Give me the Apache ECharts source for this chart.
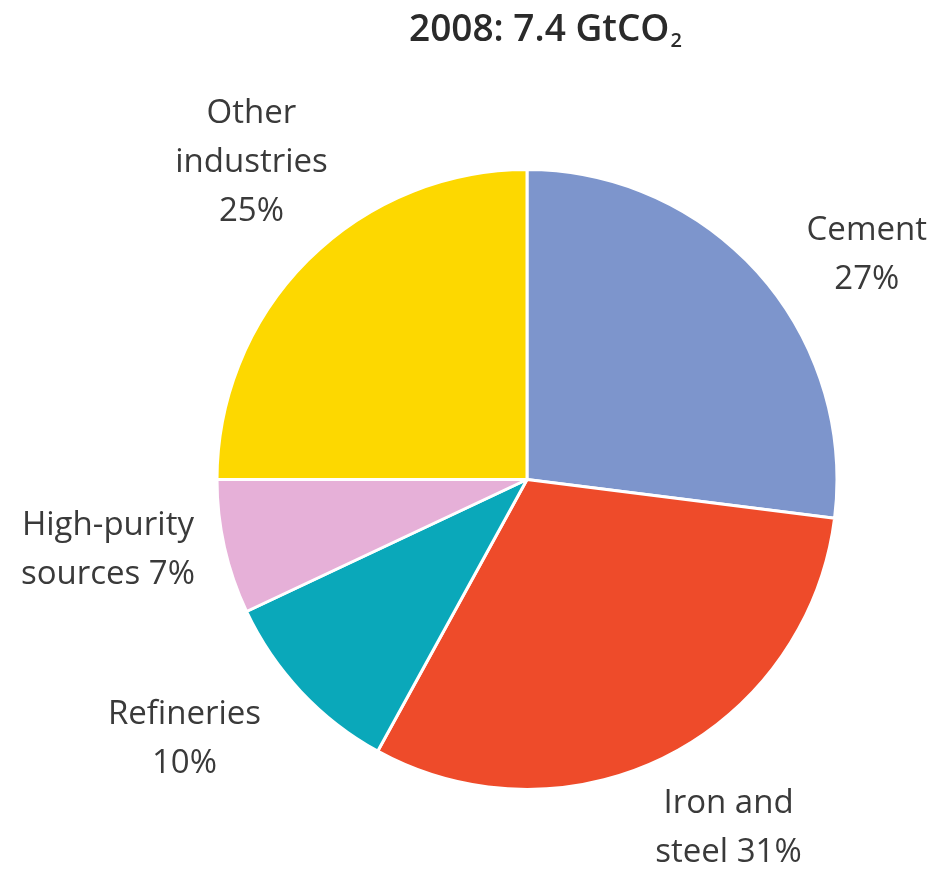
<!DOCTYPE html>
<html>
<head>
<meta charset="utf-8">
<title>2008: 7.4 GtCO2</title>
<script src="https://cdn.jsdelivr.net/npm/echarts@6/dist/echarts.min.js"></script>
<style>
  html, body { margin: 0; padding: 0; background: #ffffff; }
  #chart { width: 932px; height: 873px; }
</style>
</head>
<body>
<div id="chart"></div>
<script>
// Industrial CO2 emissions by source, 2008 (share of 7.4 GtCO2)
const categories = ['Cement', 'Iron and steel', 'Refineries', 'High-purity sources', 'Other industries'];
const shares = [27, 31, 10, 7, 25];
// How each label is split into lines
const labelLines = [
  ['Cement', '{v}%'],
  ['Iron and', 'steel {v}%'],
  ['Refineries', '{v}%'],
  ['High-purity', 'sources {v}%'],
  ['Other', 'industries', '{v}%']
];
const sliceColors = ['#7d95cc', '#ee4b2a', '#0aa8ba', '#e6b0d8', '#fdd800'];

// Pie geometry (px) and label placement: angular nudge from the slice middle, distance from centre
const pieCenter = [527, 479.5];
const pieRadius = 310;
const labelNudge = [8, -3, 6, 3, 4];
const labelDist = [407, 403, 430, 425, 420];

const total = shares.reduce((a, b) => a + b, 0);
const midAngles = [];
let acc = 0;
shares.forEach(v => { midAngles.push((acc + v / 2) / total * 360); acc += v; });

const chart = echarts.init(document.getElementById('chart'), null, { renderer: 'canvas' });

chart.setOption({
  backgroundColor: '#ffffff',
  animation: false,
  title: {
    text: '2008: 7.4 GtCO{sub|2}',
    left: 404,
    top: 4,
    textStyle: {
      fontFamily: 'Open Sans',
      fontSize: 37,
      fontWeight: 600,
      color: '#2a2a2a',
      rich: {
        sub: { fontFamily: 'Open Sans', fontSize: 20, fontWeight: 600, color: '#2a2a2a', padding: [22, 0, 0, 1] }
      }
    }
  },
  series: [{
    type: 'pie',
    center: pieCenter,
    radius: [0, pieRadius],
    startAngle: 90,
    clockwise: true,
    avoidLabelOverlap: false,
    itemStyle: { borderColor: '#ffffff', borderWidth: 3 },
    emphasis: { disabled: true },
    labelLine: { show: false },
    label: {
      show: true,
      position: 'outside',
      alignTo: 'none',
      overflow: 'none',
      edgeDistance: 0,
      bleedMargin: 0,
      fontFamily: 'Open Sans',
      fontSize: 33,
      lineHeight: 49,
      color: '#3a3a3a',
      align: 'center',
      formatter: p => labelLines[p.dataIndex].map(s => s.replace('{v}', p.value)).join('\n')
    },
    labelLayout: params => {
      const i = params.dataIndex;
      const a = (midAngles[i] + labelNudge[i]) * Math.PI / 180;
      return {
        x: pieCenter[0] + labelDist[i] * Math.sin(a),
        y: pieCenter[1] - labelDist[i] * Math.cos(a),
        align: 'center',
        verticalAlign: 'middle'
      };
    },
    data: categories.map((name, i) => ({
      name: name,
      value: shares[i],
      itemStyle: { color: sliceColors[i] }
    }))
  }]
});
</script>
</body>
</html>
